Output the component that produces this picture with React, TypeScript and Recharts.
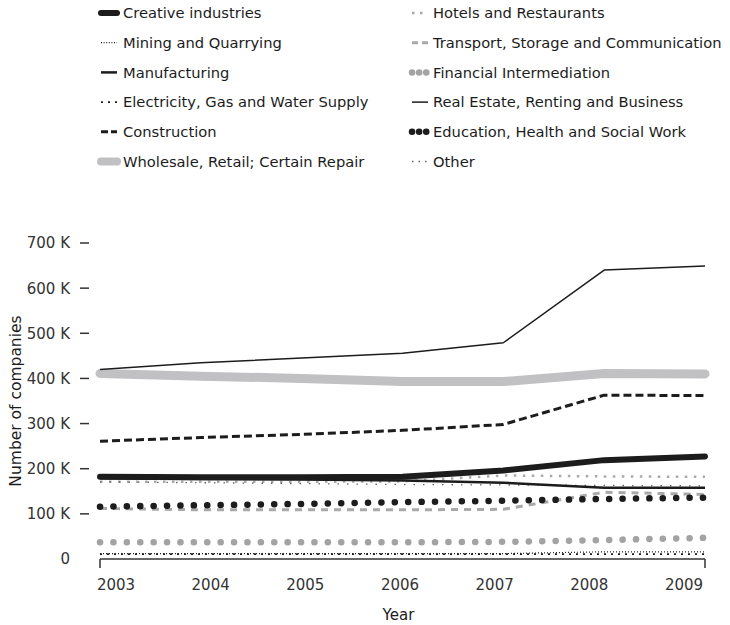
import React from 'react';
import { LineChart, Line, XAxis, YAxis, Label } from 'recharts';

// values, in thousands of companies
const years = ['2003', '2004', '2005', '2006', '2007', '2008', '2009'];
const creative = [182, 181, 181, 182, 196, 219, 227];
const mining = [12, 12, 12, 12, 12, 16, 16];
const manufacturing = [179, 177, 176, 174, 169, 158, 158];
const electricity = [11, 11, 11, 11, 11, 11, 11];
const construction = [261, 269, 276, 285, 298, 363, 362];
const wholesale = [411, 405, 400, 393, 393, 411, 410];
const hotels = [171, 171, 171, 172, 185, 183, 182];
const transport = [112, 109, 109, 109, 110, 148, 143];
const financial = [37, 37, 37, 37, 38, 42, 47];
const realEstate = [420, 435, 445, 456, 479, 640, 649];
const education = [116, 119, 122, 126, 129, 133, 136];
const other = [171, 169, 167, 165, 164, 163, 162];
const yTicks = [0, 100, 200, 300, 400, 500, 600, 700];

const data = years.map((year, i) => ({
  year,
  creative: creative[i],
  mining: mining[i],
  manufacturing: manufacturing[i],
  electricity: electricity[i],
  construction: construction[i],
  wholesale: wholesale[i],
  hotels: hotels[i],
  transport: transport[i],
  financial: financial[i],
  realEstate: realEstate[i],
  education: education[i],
  other: other[i],
}));

const FONT = '"DejaVu Sans", Verdana, sans-serif';
const INK = '#1c1c1c';
const GREY = '#a9a9a9';

type SeriesStyle = {
  key: string;
  name: string;
  color: string;
  width: number;
  dash?: string;
  cap?: 'round' | 'butt';
  legendDash?: string;
  legendWidth?: number;
};

const styles: Record<string, SeriesStyle> = {
  creative: { key: 'creative', name: 'Creative industries', color: INK, width: 6, cap: 'round' },
  mining: { key: 'mining', name: 'Mining and Quarrying', color: '#222', width: 1.2, dash: '1 2', legendDash: '1 1.6' },
  manufacturing: { key: 'manufacturing', name: 'Manufacturing', color: INK, width: 2.5 },
  electricity: { key: 'electricity', name: 'Electricity, Gas and Water Supply', color: INK, width: 1.8, dash: '2 5', legendDash: '2 5' },
  construction: { key: 'construction', name: 'Construction', color: INK, width: 3, dash: '8 4', legendDash: '7 3' },
  wholesale: { key: 'wholesale', name: 'Wholesale, Retail; Certain Repair', color: '#c1c1c4', width: 9, cap: 'round', legendWidth: 8 },
  hotels: { key: 'hotels', name: 'Hotels and Restaurants', color: GREY, width: 2.5, dash: '2.5 6.5', legendDash: '2.5 5.5' },
  transport: { key: 'transport', name: 'Transport, Storage and Communication', color: GREY, width: 3, dash: '7 6', legendDash: '6 4' },
  financial: { key: 'financial', name: 'Financial Intermediation', color: '#a3a3a3', width: 6.5, dash: '0.1 13.3', cap: 'round', legendDash: '0.1 7' },
  realEstate: { key: 'realEstate', name: 'Real Estate, Renting and Business', color: INK, width: 1.5 },
  education: { key: 'education', name: 'Education, Health and Social Work', color: INK, width: 6.5, dash: '0.1 13.3', cap: 'round', legendDash: '0.1 7' },
  other: { key: 'other', name: 'Other', color: '#666', width: 1.3, dash: '1.5 8', legendDash: '1.5 5' },
};

const legendLeft = ['creative', 'mining', 'manufacturing', 'electricity', 'construction', 'wholesale'];
const legendRight = ['hotels', 'transport', 'financial', 'realEstate', 'education', 'other'];
const drawOrder = ['wholesale', 'financial', 'transport', 'hotels', 'other', 'mining', 'electricity', 'education', 'construction', 'manufacturing', 'creative', 'realEstate'];

const fmtK = (v: number) => (v === 0 ? '0' : `${v} K`);

const YTick = (props: any) => {
  const { x, y, payload } = props;
  return (
    <g>
      <text x={x - 30} y={y} dy="0.36em" textAnchor="end" fontSize={15} fill="#333" fontFamily={FONT}>
        {fmtK(payload.value)}
      </text>
      {payload.value !== 0 && <line x1={x - 20} x2={x - 11} y1={y} y2={y} stroke="#333" strokeWidth={1.5} />}
    </g>
  );
};

const XTick = (props: any) => {
  const { x, y, payload, index } = props;
  const last = years.length - 1;
  // labels sit in a slightly narrower band than the data points
  const shift = 16 - (37 * index) / last;
  return (
    <g>
      {(index === 0 || index === last) && <line x1={x} x2={x} y1={y} y2={y + 9} stroke="#333" strokeWidth={1.5} />}
      <text x={x + shift} y={y + 26} dy="0.36em" textAnchor="middle" fontSize={15} fill="#333" fontFamily={FONT}>
        {payload.value}
      </text>
    </g>
  );
};

const XTitle = (props: any) => {
  const vb = props.viewBox || { x: 100, y: 559, width: 605 };
  return (
    <text x={vb.x + vb.width / 2 - 4} y={vb.y + 56} dy="0.36em" textAnchor="middle" fontSize={15} fill={INK} fontFamily={FONT}>
      Year
    </text>
  );
};

const YTitle = (props: any) => {
  const vb = props.viewBox || { x: 0, y: 243, height: 316 };
  const cx = vb.x + 15;
  const cy = vb.y + vb.height / 2;
  return (
    <text x={cx} y={cy} dy="0.36em" textAnchor="middle" fontSize={15.5} fill={INK} fontFamily={FONT} transform={`rotate(-90 ${cx} ${cy})`}>
      Number of companies
    </text>
  );
};

const LegendBlock = () => {
  const rowY = (i: number) => 13 + i * 29.7;
  const item = (k: string, i: number, iconX: number, textX: number) => {
    const s = styles[k];
    const y = rowY(i);
    return (
      <g key={k}>
        <line
          x1={iconX + 3}
          x2={iconX + 19}
          y1={y}
          y2={y}
          stroke={s.color}
          strokeWidth={s.legendWidth ?? s.width}
          strokeDasharray={s.legendDash}
          strokeLinecap={s.cap === 'round' ? 'round' : 'butt'}
        />
        <text x={textX} y={y} dy="0.36em" fontSize={14.7} fill={INK} fontFamily={FONT}>
          {s.name}
        </text>
      </g>
    );
  };
  return (
    <svg width={730} height={180} style={{ position: 'absolute', left: 0, top: 0 }}>
      {legendLeft.map((k, i) => item(k, i, 98, 123))}
      {legendRight.map((k, i) => item(k, i, 409, 433))}
    </svg>
  );
};

export default function App() {
  return (
    <div style={{ position: 'absolute', left: 0, top: 0, width: 730, height: 625, background: '#fff' }}>
      <LineChart width={730} height={625} data={data} margin={{ top: 243, right: 25, bottom: 0, left: 0 }}>
        <XAxis
          dataKey="year"
          height={66}
          interval={0}
          tickSize={0}
          tickMargin={0}
          tickLine={false}
          axisLine={{ stroke: '#333', strokeWidth: 1.5 }}
          tick={<XTick />}
        >
          <Label content={<XTitle />} />
        </XAxis>
        <YAxis
          width={100}
          domain={[0, 700]}
          ticks={yTicks}
          interval={0}
          tickSize={0}
          tickMargin={0}
          axisLine={false}
          tickLine={false}
          tick={<YTick />}
        >
          <Label content={<YTitle />} />
        </YAxis>
        {drawOrder.map((k) => {
          const s = styles[k];
          return (
            <Line
              key={k}
              type="linear"
              dataKey={k}
              name={s.name}
              stroke={s.color}
              strokeWidth={s.width}
              strokeDasharray={s.dash}
              strokeLinecap={s.cap === 'round' ? 'round' : 'butt'}
              strokeLinejoin="round"
              dot={false}
              activeDot={false}
              isAnimationActive={false}
            />
          );
        })}
      </LineChart>
      <LegendBlock />
    </div>
  );
}
